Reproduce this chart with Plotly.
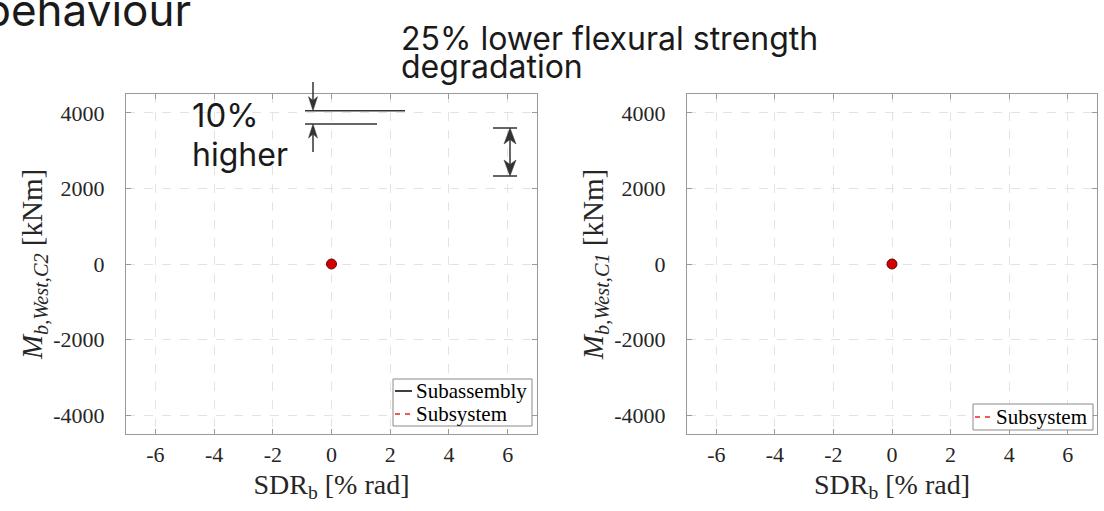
import plotly.graph_objects as go

# ---------------- data ----------------
sdr_subassembly = [0.0]
m_subassembly_c2 = [0.0]
sdr_subsystem = [0.0]
m_subsystem_c2 = [0.0]
m_subsystem_c1 = [0.0]
current_sdr = [0.0]
current_m_c2 = [0.0]
current_m_c1 = [0.0]

x_tick_vals = [-6, -4, -2, 0, 2, 4, 6]
x_tick_text = ["-6", "-4", "-2", "0", "2", "4", "6"]
y_tick_vals = [-4000, -2000, 0, 2000, 4000]
y_tick_text = ["-4000", "-2000", "0", "2000", "4000"]
x_range = [-7, 7]
y_range = [-4500, 4500]

# ---------------- geometry helpers (figure px -> paper) ----------------
W, H = 1104, 511
ML, MR, MT, MB = 126, 7, 94, 77
PW, PH = W - ML - MR, H - MT - MB


def px(x):
    return (x - ML) / PW


def py(y):
    return (H - MB - y) / PH


SERIF = "Liberation Serif, Times New Roman, serif"
SANS = "Inter, Noto Sans, sans-serif"
AX_COLOR = "#9a9a9a"
GRID_COLOR = "#e3e3e3"
TXT = "#262626"
INK = "#333333"
RED = "#e8231f"

fig = go.Figure()

# left subplot
fig.add_trace(go.Scatter(x=sdr_subassembly, y=m_subassembly_c2, mode="lines",
                         name="Subassembly", line=dict(color="black", width=1.5),
                         xaxis="x", yaxis="y", showlegend=False))
fig.add_trace(go.Scatter(x=sdr_subsystem, y=m_subsystem_c2, mode="lines",
                         name="Subsystem", line=dict(color=RED, width=1.5, dash="dash"),
                         xaxis="x", yaxis="y", showlegend=False))
fig.add_trace(go.Scatter(x=current_sdr, y=current_m_c2, mode="markers", showlegend=False,
                         marker=dict(size=10, color="#d40000", line=dict(color="#5a0a0a", width=1)),
                         xaxis="x", yaxis="y"))
# right subplot
fig.add_trace(go.Scatter(x=sdr_subsystem, y=m_subsystem_c1, mode="lines",
                         name="Subsystem", line=dict(color=RED, width=1.5, dash="dash"),
                         xaxis="x2", yaxis="y2", showlegend=False))
fig.add_trace(go.Scatter(x=current_sdr, y=current_m_c1, mode="markers", showlegend=False,
                         marker=dict(size=10, color="#d40000", line=dict(color="#5a0a0a", width=1)),
                         xaxis="x2", yaxis="y2"))


def xaxis_style(domain, anchor):
    return dict(domain=domain, anchor=anchor, range=x_range, tickmode="array",
                tickvals=x_tick_vals, ticktext=x_tick_text, ticks="inside", ticklen=5,
                tickcolor=AX_COLOR, showline=True, linecolor=AX_COLOR, linewidth=1,
                mirror="ticks", showgrid=True, gridcolor=GRID_COLOR, griddash="dash",
                zeroline=False, tickfont=dict(family=SERIF, size=22, color=TXT),
                ticklabelstandoff=1,
                title=dict(text="SDR<sub>b</sub> [% rad]", font=dict(family=SERIF, size=28, color=TXT),
                           standoff=7),
                automargin=False, fixedrange=True)


def yaxis_style(anchor, label):
    return dict(domain=[0, 1], anchor=anchor, range=y_range, tickmode="array",
                tickvals=y_tick_vals, ticktext=y_tick_text, ticks="inside", ticklen=5,
                tickcolor=AX_COLOR, showline=True, linecolor=AX_COLOR, linewidth=1,
                mirror="ticks", showgrid=True, gridcolor=GRID_COLOR, griddash="dash",
                zeroline=False, tickfont=dict(family=SERIF, size=22, color=TXT),
                ticklabelstandoff=16,
                title=dict(text=label, font=dict(family=SERIF, size=29, color=TXT), standoff=2),
                automargin=False, fixedrange=True)


left_dom = [px(126), px(537)]
right_dom = [px(687), px(1097)]


def txt(text, x, y, size, family=SANS, color="#1a1a1a", xanchor="left"):
    return dict(text=text, x=px(x), y=py(y), xref="paper", yref="paper", xanchor=xanchor,
                yanchor="middle", showarrow=False, font=dict(family=family, size=size, color=color))


annotations = [
    txt("behaviour", 193, 10, 44, xanchor="right"),
    txt("25% lower flexural strength", 399, 39, 32),
    txt("degradation", 399, 66, 32),
    txt("10%", 190, 115, 33),
    txt("higher", 190, 154, 32),
    # manual legends (MATLAB-style compact boxes)
    txt("Subassembly", 414, 391, 21, family=SERIF, color="black"),
    txt("Subsystem", 414, 414, 21, family=SERIF, color="black"),
    txt("Subsystem", 994, 417, 21, family=SERIF, color="black"),
]


def line(x0, y0, x1, y1, color=INK, width=1.5, dash=None):
    ln = dict(color=color, width=width)
    if dash:
        ln["dash"] = dash
    return dict(type="line", xref="paper", yref="paper", x0=px(x0), x1=px(x1), y0=py(y0), y1=py(y1),
                line=ln)


def head(xt, yt, direction, length, half):
    # notched arrowhead, direction +1 = pointing down, -1 = pointing up
    yb = yt - direction * length
    yn = yt - direction * length * 0.72
    pts = [(xt, yt), (xt - half, yb), (xt, yn), (xt + half, yb)]
    path = "M " + " L ".join(f"{px(a):.6f},{py(b):.6f}" for a, b in pts) + " Z"
    return dict(type="path", xref="paper", yref="paper", path=path,
                fillcolor=INK, line=dict(color=INK, width=0.5))


shapes = [
    # 10% higher markers
    line(305, 110.7, 405, 110.7),
    line(305, 124, 377, 124),
    line(313, 82, 313, 104),
    head(313, 110.7, +1, 14, 4.5),
    line(313, 130, 313, 152),
    head(313, 124, -1, 14, 4.5),
    # 25% degradation double arrow
    line(493, 128, 517, 128),
    line(493, 176, 517, 176),
    line(510, 136, 510, 168),
    head(510, 128, -1, 16, 6),
    head(510, 176, +1, 16, 6),
    # left legend box
    dict(type="rect", xref="paper", yref="paper", x0=px(393), x1=px(532), y0=py(379), y1=py(426),
         fillcolor="white", line=dict(color="#8a8a8a", width=1), layer="above"),
    line(395, 391, 412, 391, color="black", width=1.5),
    line(395, 414, 400, 414, color=RED, width=1.5),
    line(405, 414, 410, 414, color=RED, width=1.5),
    # right legend box
    dict(type="rect", xref="paper", yref="paper", x0=px(973), x1=px(1093), y0=py(404), y1=py(430),
         fillcolor="white", line=dict(color="#8a8a8a", width=1), layer="above"),
    line(975, 417, 980, 417, color=RED, width=1.5),
    line(985, 417, 990, 417, color=RED, width=1.5),
]

fig.update_layout(
    width=W, height=H,
    margin=dict(l=ML, r=MR, t=MT, b=MB),
    paper_bgcolor="white", plot_bgcolor="white",
    xaxis=xaxis_style(left_dom, "y"),
    yaxis=yaxis_style("x", "<i>M</i><sub><i>b,West,C2</i></sub> [kNm]"),
    xaxis2=xaxis_style(right_dom, "y2"),
    yaxis2=yaxis_style("x2", "<i>M</i><sub><i>b,West,C1</i></sub> [kNm]"),
    annotations=annotations,
    shapes=shapes,
    showlegend=False,
)

fig.write_html("out.html", config={"displayModeBar": False},
               post_script="document.body.style.margin='0';document.body.style.overflow='hidden';")
